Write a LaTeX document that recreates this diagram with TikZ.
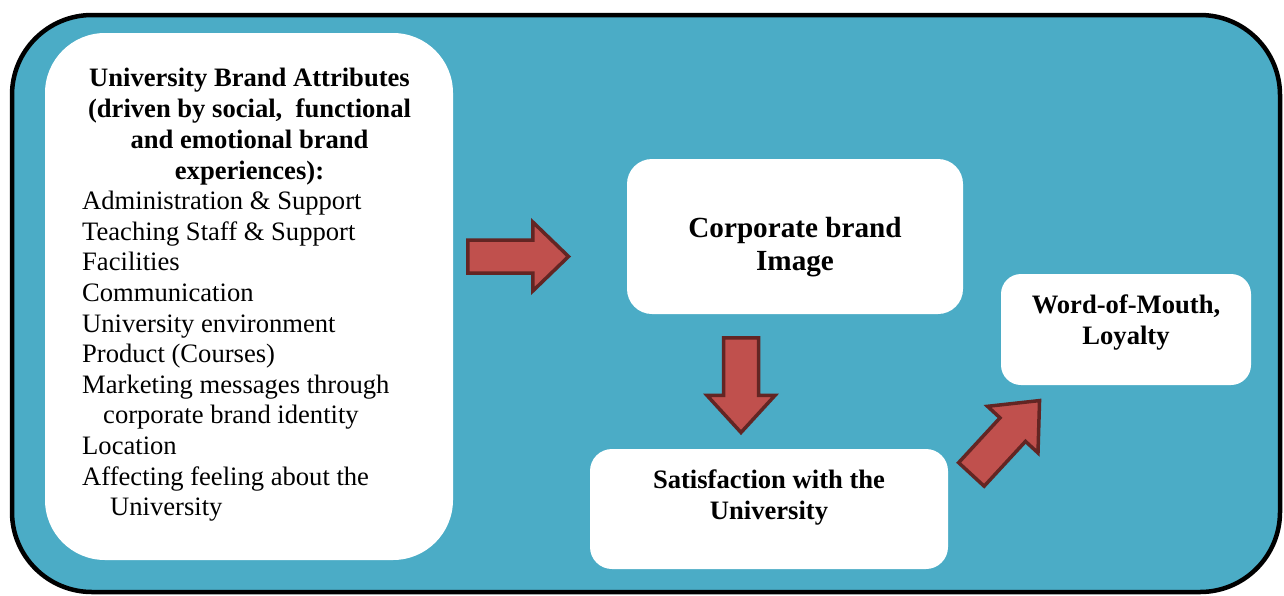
\documentclass[tikz,border=0pt]{standalone}
\usepackage{fontspec}
\setmainfont{Liberation Serif}
\usetikzlibrary{shapes.arrows}
\definecolor{panelblue}{HTML}{4BACC6}
\definecolor{arrowfill}{HTML}{C0504D}
\definecolor{arrowline}{HTML}{632523}
\begin{document}
\begin{tikzpicture}[x=1pt,y=-1pt,
  whitebox/.style={fill=white, draw=none, inner sep=0, rounded corners=#1},
  whitebox/.default=25pt,
  blockarrow/.style={single arrow, fill=arrowfill, draw=arrowline, line width=3.5pt,
    inner xsep=0, anchor=tail},
  bodytext/.style={font=\fontsize{26.6}{30.6}\selectfont, inner sep=0},
  headtext/.style={font=\fontsize{26.6}{31}\selectfont\bfseries, inner sep=0, align=center, anchor=north}]
\useasboundingbox (0,0) rectangle (1284,595);
% outer panel
\node[draw=black, fill=panelblue, line width=4.5pt, rounded corners=80pt,
  minimum width=1268, minimum height=577, inner sep=0] (panel) at (646,303.5) {};
% white boxes
\node[whitebox=60pt, minimum width=408, minimum height=527] (attr) at (249,296.5) {};
\node[whitebox=25pt, minimum width=336, minimum height=155] (image) at (795,236.5) {};
\node[whitebox=22pt, minimum width=358, minimum height=120] (sat) at (769,509) {};
\node[whitebox=20pt, minimum width=250, minimum height=111] (wom) at (1126,329.5) {};
% texts
\node[headtext] (attrhead) at (249.5,68) {University Brand Attributes\\(driven by social,\ \ functional\\and emotional brand\\experiences):};
\node[bodytext, align=left, anchor=north west] (attrlist) at (82,191) {Administration \& Support\\Teaching Staff \& Support\\Facilities\\Communication\\University environment\\Product (Courses)\\Marketing messages through\\\hspace*{21pt}corporate brand identity\\Location\\Affecting feeling about the\\\hspace*{28pt}University};
\node[headtext, font=\fontsize{29.2}{33}\selectfont\bfseries] (imagetext) at (795,217.5) {Corporate brand\\Image};
\node[headtext] (sattext) at (769,470) {Satisfaction with the\\University};
\node[headtext] (womtext) at (1126,295) {Word-of-Mouth,\\Loyalty};
% block arrows
\node[blockarrow, inner ysep=14.75, minimum height=100.75,
  single arrow head extend=18, single arrow tip angle=88] (a1) at (466,256.5) {};
\node[blockarrow, inner ysep=15.75, minimum height=94.75,
  single arrow head extend=16.5, single arrow tip angle=85, rotate=-90] (a2) at (741,336) {};
\node[blockarrow, inner ysep=15.6, minimum height=100.5,
  single arrow head extend=17, single arrow tip angle=82, rotate=47.3] (a3) at (970.2,475.7) {};
\end{tikzpicture}
\end{document}
